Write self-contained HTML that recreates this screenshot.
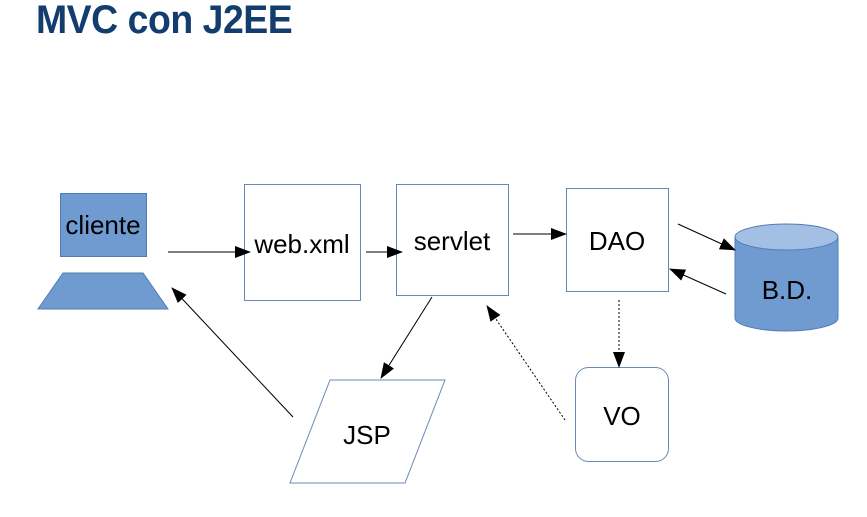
<!DOCTYPE html>
<html><head><style>
body{margin:0;width:867px;height:517px;background:#fff;overflow:hidden;font-family:"Liberation Sans",sans-serif}
.t{position:absolute;left:36px;top:-2px;font-size:40px;font-weight:bold;color:#123d6e;letter-spacing:-0.5px;transform:scaleX(0.935);transform-origin:0 0}
</style></head><body>
<div class="t">MVC con J2EE</div>
<svg width="867" height="517" style="position:absolute;left:0;top:0" font-family="Liberation Sans, sans-serif">
<defs>
<marker id="b" markerWidth="16" markerHeight="12" refX="15" refY="6" orient="auto" markerUnits="userSpaceOnUse"><path d="M0,0L16,6L0,12z" fill="#000"/></marker>
</defs>
<rect x="60.5" y="193.5" width="86" height="63" fill="#6f9bd1" stroke="#4f7cb5"/>
<text x="103" y="234" font-size="26" text-anchor="middle">cliente</text>
<polygon points="63,273 143,273 168,309 38,309" fill="#6f9bd1" stroke="#4f7cb5"/>
<rect x="244.5" y="184.5" width="116" height="116" fill="#fff" stroke="#6a88b8"/>
<text x="302" y="253" font-size="26" text-anchor="middle">web.xml</text>
<rect x="396.5" y="184.5" width="112" height="111" fill="#fff" stroke="#6a88b8"/>
<text x="452" y="250" font-size="26" text-anchor="middle">servlet</text>
<rect x="566.5" y="188.5" width="102" height="103" fill="#fff" stroke="#6a88b8"/>
<text x="617" y="250" font-size="26" text-anchor="middle">DAO</text>
<path d="M735,237 L735,318 A51.5,13 0 0 0 838,318 L838,237" fill="#6f9bd1" stroke="#4f7cb5"/>
<ellipse cx="786.5" cy="237" rx="51.5" ry="13" fill="#a3c0e4" stroke="#4f7cb5"/>
<text x="787" y="299" font-size="26" text-anchor="middle">B.D.</text>
<rect x="575.5" y="367.5" width="93" height="94" rx="13" fill="#fff" stroke="#6a88b8"/>
<text x="622" y="425" font-size="26" text-anchor="middle">VO</text>
<polygon points="330,380 445,380 405,483 290,483" fill="#fff" stroke="#6a88b8"/>
<text x="367" y="444" font-size="26" text-anchor="middle">JSP</text>
<g stroke="#000" stroke-width="1" fill="none">
<line x1="168" y1="252" x2="250" y2="252" marker-end="url(#b)"/>
<line x1="366" y1="252" x2="402" y2="252" marker-end="url(#b)"/>
<line x1="513" y1="234" x2="566" y2="234" marker-end="url(#b)"/>
<line x1="678" y1="224" x2="735" y2="250" marker-end="url(#b)"/>
<line x1="726" y1="294" x2="670" y2="269" marker-end="url(#b)"/>
<line x1="619" y1="300" x2="619" y2="367" stroke-dasharray="2,2" marker-end="url(#b)"/>
<line x1="432" y1="297" x2="381" y2="378" marker-end="url(#b)"/>
<line x1="293" y1="417" x2="172" y2="288" marker-end="url(#b)"/>
<line x1="565" y1="420" x2="487" y2="306" stroke-dasharray="2,2" marker-end="url(#b)"/>
</g>
</svg>
</body></html>
